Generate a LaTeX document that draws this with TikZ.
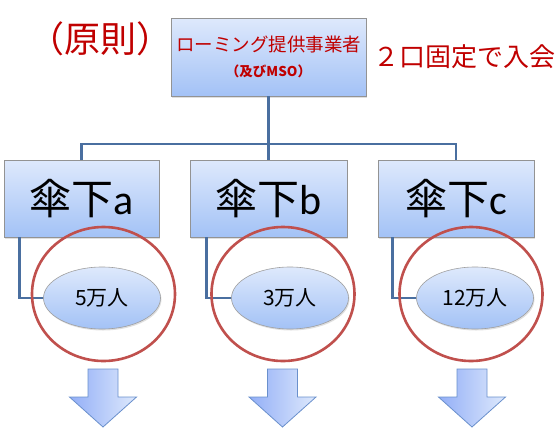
\documentclass[tikz,border=0pt]{standalone}
\usepackage{fontspec}
\setmainfont{Carlito}
\newfontfamily\jp{Noto Sans CJK JP}
\usetikzlibrary{positioning,shapes.geometric,shadows}
\definecolor{boxTop}{HTML}{DEE9FC}
\definecolor{boxBot}{HTML}{A3C2F6}
\definecolor{lineBlue}{HTML}{4A6FA0}
\definecolor{ringRed}{HTML}{C0504D}
\definecolor{txtRed}{HTML}{C00000}
\definecolor{arrEdge}{HTML}{6A90CC}

\begin{document}
\begin{tikzpicture}[x=1pt, y=-1pt,
      box/.style={draw=gray!85, line width=0.8pt, top color=boxTop, bottom color=boxBot,
                  align=center, inner sep=0pt,
                  drop shadow={shadow xshift=1pt, shadow yshift=-1.5pt, opacity=0.25}},
      oval/.style={ellipse, draw=gray!75, line width=0.6pt, top color=boxTop, bottom color=boxBot,
                   inner sep=0pt, minimum width=117pt, minimum height=62pt,
                   font=\jp\fontsize{21}{24}\selectfont,
                   drop shadow={shadow xshift=1pt, shadow yshift=-1.5pt, opacity=0.25}},
      ring/.style={ellipse, draw=ringRed, line width=2.6pt, inner sep=0pt,
                   minimum width=143pt, minimum height=134pt},
      link/.style={lineBlue, line width=2.8pt},
      blockarr/.style={draw=arrEdge, line width=0.8pt, left color=boxBot!90!blue, right color=boxTop, line join=miter}]
    \useasboundingbox (0,0) rectangle (560,434);

    % top level
    \node[box, minimum width=195pt, minimum height=78pt, text=txtRed] (top) at (268.5,57)
      {\jp\fontsize{18.5}{22}\selectfont ローミング提供事業者\\[11pt]
       \jp\fontsize{13.5}{15}\selectfont\bfseries （及びMSO）};
    \node[text=txtRed, font=\jp\fontsize{36}{40}\selectfont] (rule) at (100,39) {（原則）};
    \node[text=txtRed, font=\jp\fontsize{26}{28}\selectfont] (fixed) at (464,57) {２口固定で入会};

    % subsidiaries
    \node[box, minimum width=155pt, minimum height=77pt, font=\fontsize{42}{46}\selectfont] (sa) at (81.5,198.5) {{\jp 傘下}a};
    \node[box, minimum width=157pt, minimum height=77pt, font=\fontsize{42}{46}\selectfont] (sb) at (268.5,198.5) {{\jp 傘下}b};
    \node[box, minimum width=156pt, minimum height=77pt, font=\fontsize{42}{46}\selectfont] (sc) at (456,198.5) {{\jp 傘下}c};

    \coordinate (bus) at (268.5,144);
    \draw[link] (top.south) -- (sb.north);
    \draw[link] (sa.north) |- (bus) -| (sc.north);

    % members
    \draw[link] ([xshift=16pt]sa.south west) |- (102,298) coordinate (ja);
    \draw[link] ([xshift=17pt]sb.south west) |- (290,298) coordinate (jb);
    \draw[link] ([xshift=15pt]sc.south west) |- (475,298) coordinate (jc);
    \node[oval] (ea) at (ja) {5万人};
    \node[oval] (eb) at (jb) {3万人};
    \node[oval] (ec) at (jc) {12万人};

    \node[ring] (ra) at (103.5,294) {};
    \node[ring] (rb) at (283,294) {};
    \node[ring] (rc) at (471,294) {};

    % down arrows
    \foreach \cx in {103,282.5,472}
      \path[blockarr] (\cx-15,369) -- (\cx+15,369) -- (\cx+15,397) -- (\cx+33.5,397)
        -- (\cx,427) -- (\cx-33.5,397) -- (\cx-15,397) -- cycle;
  \end{tikzpicture}
\end{document}
